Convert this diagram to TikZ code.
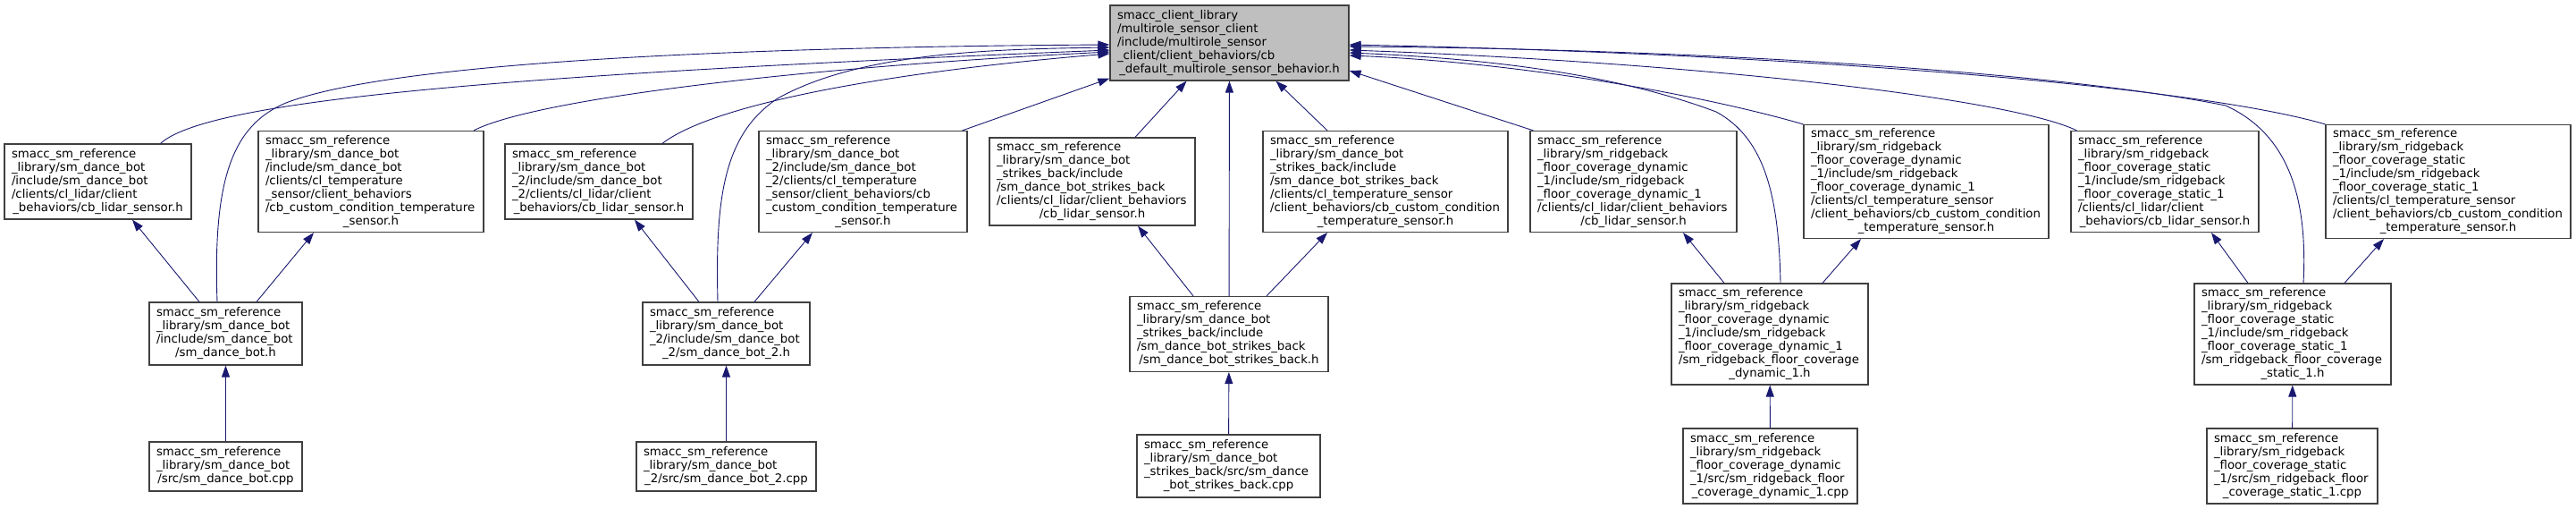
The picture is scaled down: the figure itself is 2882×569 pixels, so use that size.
\documentclass[tikz,border=0pt]{standalone}
\usepackage{fontspec}
\setmainfont{DejaVu Sans}
\usetikzlibrary{arrows.meta}
\definecolor{edgeblue}{HTML}{191970}
\definecolor{rootgray}{HTML}{BFBFBF}
\definecolor{boxline}{HTML}{404040}
\newcommand\lastln[1]{\makebox[\linewidth][c]{#1}}

\begin{document}
\begin{tikzpicture}[
    x=1pt, y=-1pt,
    file/.style={draw=boxline, line width=1.2pt, fill=white, align=left,
                 font=\fontsize{13.3}{15}\selectfont, inner xsep=8pt, inner ysep=0pt},
    dep/.style={-{Triangle[length=13pt,width=9pt]}, draw=edgeblue, line width=0.9pt}
]
\useasboundingbox (0,0) rectangle (2882,569);

\node[file, fill=rootgray, text width=251, minimum height=84] (root) at (1375.5,48)
  {smacc\_client\_library\\/multirole\_sensor\_client\\/include/multirole\_sensor\\\_client/client\_behaviors/cb\\\lastln{\_default\_multirole\_sensor\_behavior.h}};

\node[file, text width=193, minimum height=84] (A1) at (109.5,203)
  {smacc\_sm\_reference\\\_library/sm\_dance\_bot\\/include/sm\_dance\_bot\\/clients/cl\_lidar/client\\\lastln{\_behaviors/cb\_lidar\_sensor.h}};
\node[file, text width=236, minimum height=113] (A2) at (415,203)
  {smacc\_sm\_reference\\\_library/sm\_dance\_bot\\/include/sm\_dance\_bot\\/clients/cl\_temperature\\\_sensor/client\_behaviors\\/cb\_custom\_condition\_temperature\\\lastln{\_sensor.h}};
\node[file, text width=194, minimum height=84] (A3) at (670,203)
  {smacc\_sm\_reference\\\_library/sm\_dance\_bot\\\_2/include/sm\_dance\_bot\\\_2/clients/cl\_lidar/client\\\lastln{\_behaviors/cb\_lidar\_sensor.h}};
\node[file, text width=217, minimum height=113] (A4) at (965.5,203)
  {smacc\_sm\_reference\\\_library/sm\_dance\_bot\\\_2/include/sm\_dance\_bot\\\_2/clients/cl\_temperature\\\_sensor/client\_behaviors/cb\\\_custom\_condition\_temperature\\\lastln{\_sensor.h}};
\node[file, text width=214, minimum height=98] (A5) at (1222,203)
  {smacc\_sm\_reference\\\_library/sm\_dance\_bot\\\_strikes\_back/include\\/sm\_dance\_bot\_strikes\_back\\/clients/cl\_lidar/client\_behaviors\\\lastln{/cb\_lidar\_sensor.h}};
\node[file, text width=258, minimum height=113] (A6) at (1550,203)
  {smacc\_sm\_reference\\\_library/sm\_dance\_bot\\\_strikes\_back/include\\/sm\_dance\_bot\_strikes\_back\\/clients/cl\_temperature\_sensor\\/client\_behaviors/cb\_custom\_condition\\\lastln{\_temperature\_sensor.h}};
\node[file, text width=215, minimum height=113] (A7) at (1827.5,203)
  {smacc\_sm\_reference\\\_library/sm\_ridgeback\\\_floor\_coverage\_dynamic\\\_1/include/sm\_ridgeback\\\_floor\_coverage\_dynamic\_1\\/clients/cl\_lidar/client\_behaviors\\\lastln{/cb\_lidar\_sensor.h}};
\node[file, text width=258, minimum height=127] (A8) at (2155,203)
  {smacc\_sm\_reference\\\_library/sm\_ridgeback\\\_floor\_coverage\_dynamic\\\_1/include/sm\_ridgeback\\\_floor\_coverage\_dynamic\_1\\/clients/cl\_temperature\_sensor\\/client\_behaviors/cb\_custom\_condition\\\lastln{\_temperature\_sensor.h}};
\node[file, text width=194, minimum height=113] (A9) at (2422,203)
  {smacc\_sm\_reference\\\_library/sm\_ridgeback\\\_floor\_coverage\_static\\\_1/include/sm\_ridgeback\\\_floor\_coverage\_static\_1\\/clients/cl\_lidar/client\\\lastln{\_behaviors/cb\_lidar\_sensor.h}};
\node[file, text width=258, minimum height=127] (A10) at (2739,203)
  {smacc\_sm\_reference\\\_library/sm\_ridgeback\\\_floor\_coverage\_static\\\_1/include/sm\_ridgeback\\\_floor\_coverage\_static\_1\\/clients/cl\_temperature\_sensor\\/client\_behaviors/cb\_custom\_condition\\\lastln{\_temperature\_sensor.h}};

\node[file, text width=155, minimum height=70] (B1) at (252.5,373)
  {smacc\_sm\_reference\\\_library/sm\_dance\_bot\\/include/sm\_dance\_bot\\\lastln{/sm\_dance\_bot.h}};
\node[file, text width=171, minimum height=70] (B2) at (812.5,373)
  {smacc\_sm\_reference\\\_library/sm\_dance\_bot\\\_2/include/sm\_dance\_bot\\\lastln{\_2/sm\_dance\_bot\_2.h}};
\node[file, text width=206, minimum height=84] (B3) at (1375,373.5)
  {smacc\_sm\_reference\\\_library/sm\_dance\_bot\\\_strikes\_back/include\\/sm\_dance\_bot\_strikes\_back\\\lastln{/sm\_dance\_bot\_strikes\_back.h}};
\node[file, text width=204, minimum height=113] (B4) at (1980,373.5)
  {smacc\_sm\_reference\\\_library/sm\_ridgeback\\\_floor\_coverage\_dynamic\\\_1/include/sm\_ridgeback\\\_floor\_coverage\_dynamic\_1\\/sm\_ridgeback\_floor\_coverage\\\lastln{\_dynamic\_1.h}};
\node[file, text width=204, minimum height=113] (B5) at (2565,373.5)
  {smacc\_sm\_reference\\\_library/sm\_ridgeback\\\_floor\_coverage\_static\\\_1/include/sm\_ridgeback\\\_floor\_coverage\_static\_1\\/sm\_ridgeback\_floor\_coverage\\\lastln{\_static\_1.h}};

\node[file, text width=155, minimum height=55] (C1) at (252.5,521.5)
  {smacc\_sm\_reference\\\_library/sm\_dance\_bot\\\lastln{/src/sm\_dance\_bot.cpp}};
\node[file, text width=185, minimum height=55] (C2) at (812.5,521.5)
  {smacc\_sm\_reference\\\_library/sm\_dance\_bot\\\lastln{\_2/src/sm\_dance\_bot\_2.cpp}};
\node[file, text width=189, minimum height=70] (C3) at (1374.5,521)
  {smacc\_sm\_reference\\\_library/sm\_dance\_bot\\\_strikes\_back/src/sm\_dance\\\lastln{\_bot\_strikes\_back.cpp}};
\node[file, text width=179, minimum height=84] (C4) at (1980.5,521)
  {smacc\_sm\_reference\\\_library/sm\_ridgeback\\\_floor\_coverage\_dynamic\\\_1/src/sm\_ridgeback\_floor\\\lastln{\_coverage\_dynamic\_1.cpp}};
\node[file, text width=175, minimum height=84] (C5) at (2564.5,521)
  {smacc\_sm\_reference\\\_library/sm\_ridgeback\\\_floor\_coverage\_static\\\_1/src/sm\_ridgeback\_floor\\\lastln{\_coverage\_static\_1.cpp}};

\draw[dep] ([xshift=70]A1.north) .. controls (230,115) and (520,85) .. ([yshift=-8]root.west);
\draw[dep] ([xshift=-9.5]B1.north) .. controls (238,200) and (260,140) .. (320,115)
           .. controls (450,65) and (900,52) .. ([yshift=-2]root.west);
\draw[dep] ([xshift=115]A2.north) .. controls (600,110) and (900,75) .. ([yshift=-10]root.west);
\draw[dep] ([xshift=71]A3.north) .. controls (800,115) and (1000,80) .. ([yshift=-12]root.west);
\draw[dep] ([xshift=-9.5]B2.north) .. controls (800,220) and (810,150) .. (870,110)
           .. controls (960,60) and (1100,55) .. ([yshift=-5]root.west);
\draw[dep] ([xshift=-6]A4.north east) -- ([yshift=3]root.south west);
\draw[dep] ([xshift=48]A5.north) -- ([xshift=-48]root.south);
\draw[dep] (B3) -- (root);
\draw[dep] ([xshift=-65]A6.north) -- ([xshift=52]root.south);
\draw[dep] ([xshift=4]A7.north west) -- ([yshift=-31]root.east);
\draw[dep] ([xshift=12]B4.north) .. controls (1990,220) and (1975,155) .. (1920,125)
           .. controls (1800,80) and (1650,65) .. ([yshift=-11]root.east);
\draw[dep] (A8.north west) .. controls (1900,105) and (1700,70) .. ([yshift=-14]root.east);
\draw[dep] ([xshift=7]A9.north west) .. controls (2250,110) and (1900,70) .. ([yshift=-8]root.east);
\draw[dep] ([xshift=12]B5.north) .. controls (2582,220) and (2560,150) .. (2490,118)
           .. controls (2300,80) and (1900,55) .. ([yshift=-4]root.east);
\draw[dep] (A10.north west) .. controls (2450,95) and (2000,60) .. ([yshift=-2]root.east);

\draw[dep] ([xshift=-29.5]B1.north) -- ([xshift=38.5]A1.south);
\draw[dep] ([xshift=34.5]B1.north) -- ([xshift=-64]A2.south);
\draw[dep] ([xshift=-30.5]B2.north) -- ([xshift=40]A3.south);
\draw[dep] ([xshift=31.5]B2.north) -- ([xshift=-56.5]A4.south);
\draw[dep] ([xshift=-40]B3.north) -- ([xshift=51]A5.south);
\draw[dep] ([xshift=42]B3.north) -- ([xshift=-65]A6.south);
\draw[dep] ([xshift=-51]B4.north) -- ([xshift=55.5]A7.south);
\draw[dep] ([xshift=59]B4.north) -- ([xshift=-73]A8.south);
\draw[dep] ([xshift=-50]B5.north) -- ([xshift=52]A9.south);
\draw[dep] ([xshift=58]B5.north) -- ([xshift=-72]A10.south);

\draw[dep] (C1) -- (B1);
\draw[dep] (C2) -- (B2);
\draw[dep] (C3) -- (B3);
\draw[dep] (C4) -- (B4);
\draw[dep] (C5) -- (B5);

\end{tikzpicture}
\end{document}
